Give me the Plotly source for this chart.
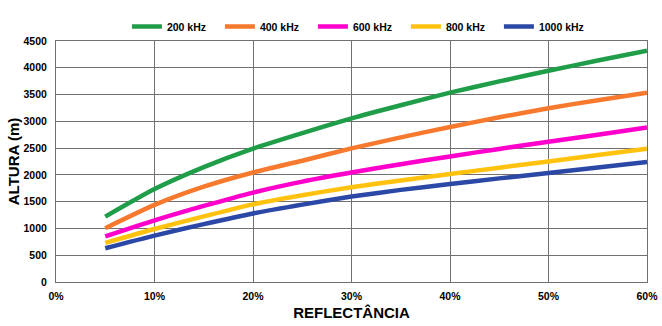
import plotly.graph_objects as go

reflectance = [5, 10, 15, 20, 25, 30, 35, 40, 45, 50, 55, 60]
names = ["200 kHz", "400 kHz", "600 kHz", "800 kHz", "1000 kHz"]
h200 = [1220, 1735, 2145, 2490, 2780, 3055, 3300, 3535, 3745, 3945, 4135, 4320]
h400 = [1005, 1440, 1780, 2045, 2265, 2495, 2700, 2895, 3075, 3245, 3395, 3535]
h600 = [850, 1150, 1420, 1670, 1875, 2045, 2200, 2345, 2485, 2620, 2750, 2885]
h800 = [730, 990, 1225, 1450, 1620, 1770, 1895, 2015, 2135, 2250, 2370, 2490]
h1000 = [630, 867, 1080, 1280, 1445, 1595, 1720, 1830, 1935, 2035, 2140, 2240]
series = [h200, h400, h600, h800, h1000]
colors = ["#1F9D48", "#F7792E", "#FF00CC", "#FFC20E", "#2B48A6"]

fig = go.Figure()
for name, ys, c in zip(names, series, colors):
    fig.add_trace(go.Scatter(x=reflectance, y=ys, name=name, mode="lines",
                             line=dict(color=c, width=4.5, shape="spline", smoothing=0.6)))

tickfont = dict(family="Liberation Sans, Arial, sans-serif", size=10.5, color="#000", weight="bold")
legfont = dict(family="Liberation Sans, Arial, sans-serif", size=10.5, color="#000", weight="bold")
titlefont = dict(family="Liberation Sans, Arial, sans-serif", size=15, color="#000", weight="bold")
fig.update_layout(
    width=662, height=326,
    margin=dict(l=56, r=15, t=36, b=44),
    paper_bgcolor="white", plot_bgcolor="white",
    showlegend=True,
    legend=dict(orientation="h", x=0.12, xanchor="left", y=1.0, yanchor="bottom",
                font=legfont, itemwidth=30, entrywidth=48, entrywidthmode="pixels",
                tracegroupgap=0, bgcolor="rgba(0,0,0,0)"),
    xaxis=dict(range=[0, 60], dtick=10, tick0=0, ticksuffix="%", tickfont=tickfont,
               showgrid=True, gridcolor="#707070", gridwidth=1, showline=True, linecolor="#707070",
               mirror=True, zeroline=False, ticks="", automargin=False, ticklabelstandoff=4,
               title=dict(text="REFLECTÂNCIA", font=titlefont, standoff=6)),
    yaxis=dict(range=[0, 4500], dtick=500, tickfont=tickfont,
               showgrid=True, gridcolor="#707070", gridwidth=1, showline=True, linecolor="#707070",
               mirror=True, zeroline=False, ticks="", automargin=True, ticklabelstandoff=6,
               title=dict(text="ALTURA (m)", font=titlefont, standoff=0)),
)
fig.write_html("out.html")
